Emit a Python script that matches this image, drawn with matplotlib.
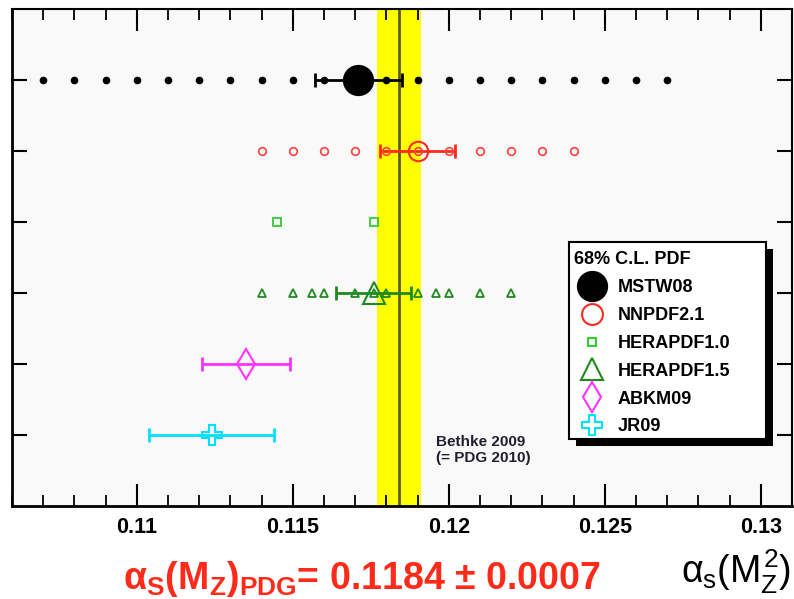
import matplotlib
matplotlib.use("Agg")
import matplotlib.pyplot as plt
from matplotlib.lines import Line2D
from matplotlib.patches import Rectangle
from matplotlib.ticker import MultipleLocator

plt.rcParams['font.family'] = ['Liberation Sans', 'DejaVu Sans']
plt.rcParams['mathtext.fontset'] = 'custom'
plt.rcParams['mathtext.rm'] = 'Liberation Sans'
plt.rcParams['mathtext.it'] = 'Liberation Sans'
plt.rcParams['mathtext.bf'] = 'Liberation Sans:bold'

# alpha_s(M_Z) from the different PDF fits, one row each (top to bottom)
pdf_names = ['MSTW08', 'NNPDF2.1', 'HERAPDF1.0', 'HERAPDF1.5', 'ABKM09', 'JR09']
rows = [6, 5, 4, 3, 2, 1]

# best fit values and 68% C.L. uncertainties (None = no fit shown)
central = [0.1171, 0.1190, None, 0.1176, 0.1135, 0.1124]
errors = [0.0014, 0.0012, None, 0.0012, 0.0014, 0.0020]

# fixed alpha_s values at which each PDF set is available
mstw_scan = [0.107, 0.108, 0.109, 0.110, 0.111, 0.112, 0.113, 0.114, 0.115, 0.116, 0.117,
             0.118, 0.119, 0.120, 0.121, 0.122, 0.123, 0.124, 0.125, 0.126, 0.127]
nnpdf_scan = [0.114, 0.115, 0.116, 0.117, 0.118, 0.119, 0.120, 0.121, 0.122, 0.123, 0.124]
hera10_scan = [0.1145, 0.1176]
hera15_scan = [0.114, 0.115, 0.1156, 0.116, 0.117, 0.1176, 0.118, 0.119, 0.1196, 0.120, 0.121, 0.122]

# world average
pdg_value = 0.1184
pdg_error = 0.0007

xmin, xmax = 0.106, 0.131
xticks = [0.11, 0.115, 0.12, 0.125, 0.13]
xticklabels = ['0.11', '0.115', '0.12', '0.125', '0.13']

red = '#ff2a1a'
colors = ['black', red, '#33cc33', '#1f8a1f', '#ff33ff', '#00e0ff']
big_markers = ['o', 'o', 's', '^', 'd', 'P']
big_sizes = [21, 14, 6, 16, 15, 14]
filled = [True, False, False, False, False, False]

fig = plt.figure(figsize=(7.94, 5.99), dpi=100)
ax = fig.add_axes([12 / 794, 1 - 506 / 599, 780 / 794, 497 / 599])
ax.set_facecolor('#f9f9f9')

# PDG band
ax.axvspan(pdg_value - pdg_error, pdg_value + pdg_error, color='#ffff00', lw=0, zorder=0.5)
ax.axvline(pdg_value, color='#5c5c00', lw=2, zorder=1)

# scan points
ax.plot(mstw_scan, [rows[0]] * len(mstw_scan), 'o', ms=4.5, color='black', zorder=4)
ax.plot(nnpdf_scan, [rows[1]] * len(nnpdf_scan), 'o', ms=5.5, mfc='none', mec='#ff4040',
        mew=1.2, zorder=4)
ax.plot(hera10_scan, [rows[2]] * len(hera10_scan), 's', ms=5.5, mfc='none', mec=colors[2],
        mew=1.3, zorder=4)
ax.plot(hera15_scan, [rows[3]] * len(hera15_scan), '^', ms=6, mfc='none', mec=colors[3],
        mew=1.3, zorder=4)

# best fits with error bars
for i in range(len(pdf_names)):
    if central[i] is None:
        continue
    ax.errorbar(central[i], rows[i], xerr=errors[i], fmt='none', ecolor=colors[i],
                elinewidth=2, capsize=5, capthick=2, zorder=2)
    ax.plot(central[i], rows[i], big_markers[i], ms=big_sizes[i],
            mfc=colors[i] if filled[i] else 'none', mec=colors[i], mew=1.5, zorder=3)

ax.set_xlim(xmin, xmax)
ax.set_ylim(0, 7)
ax.set_xticks(xticks)
ax.set_xticklabels(xticklabels, fontsize=15.5, fontweight='bold')
ax.xaxis.set_minor_locator(MultipleLocator(0.001))
ax.set_yticks(rows)
ax.set_yticklabels([])
ax.tick_params(axis='x', which='major', direction='in', length=16, width=1.5,
               top=True, bottom=True, pad=8)
ax.tick_params(axis='x', which='minor', direction='in', length=8, width=1.3,
               top=True, bottom=True)
ax.tick_params(axis='y', which='major', direction='in', length=11, width=1.5,
               left=True, right=True)
for side in ['left', 'bottom']:
    ax.spines[side].set_linewidth(2)
for side in ['top', 'right']:
    ax.spines[side].set_linewidth(1.5)

# legend box with a black drop shadow
box_x0, box_x1 = 0.714, 0.967
box_y0, box_y1 = 0.135, 0.531
dx, dy = 7 / 780, 7 / 497
ax.add_patch(Rectangle((box_x0 + dx, box_y0 - dy), box_x1 - box_x0, box_y1 - box_y0,
                       transform=ax.transAxes, facecolor='black', edgecolor='none',
                       zorder=8, clip_on=False))
ax.add_patch(Rectangle((box_x0, box_y0), box_x1 - box_x0, box_y1 - box_y0,
                       transform=ax.transAxes, facecolor='white', edgecolor='black',
                       lw=1.5, zorder=9, clip_on=False))

handles = []
leg_sizes = [21, 15, 6, 16, 15, 15]
for i in range(len(pdf_names)):
    handles.append(Line2D([], [], ls='none', marker=big_markers[i], ms=leg_sizes[i],
                          mfc=colors[i] if filled[i] else 'none', mec=colors[i], mew=1.5))
leg = ax.legend(handles, pdf_names, loc='upper left', bbox_to_anchor=(box_x0, 0.523),
                borderaxespad=0, frameon=False,
                title='68% C.L. PDF', alignment='left', handlelength=2.0,
                handletextpad=0.4, labelspacing=0.6, borderpad=0.3,
                prop={'size': 13, 'weight': 'bold'},
                title_fontproperties={'size': 13, 'weight': 'bold'})
leg.set_zorder(10)

ax.text(0.1196, 1.0, 'Bethke 2009\n(= PDG 2010)', fontsize=11, fontweight='bold',
        color='#202030', va='top', ha='left', linespacing=1.15)

fig.text(0.455, 0.033, r'$\mathbf{\alpha_S(M_Z)_{PDG}}$= 0.1184 ± 0.0007', color=red,
         fontsize=27, fontweight='bold', ha='center', va='center')
fig.text(0.996, 0.005, r'$\alpha_{s}(M_Z^2)$', fontsize=27, ha='right', va='bottom')

fig.savefig('out.png', dpi=100)
